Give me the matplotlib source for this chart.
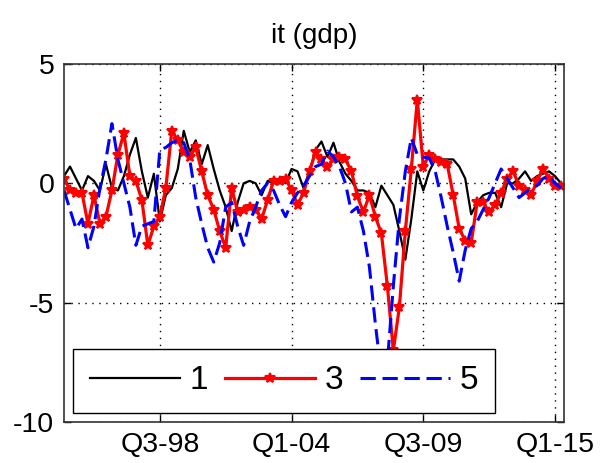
import numpy as np
import matplotlib
matplotlib.use('Agg')
from matplotlib import pyplot as plt

# quarterly data, Q3-94 .. Q2-15
h1 = [0.3, 0.7, 0.2, -0.3, 0.3, 0.1, -0.3, 0.8, -0.2, -0.3,
      0.3, 1.2, 1.9, 0.5, -0.6, 0.4, -1.6, -0.5, -0.2, 0.6,
      2.2, 1.3, 1.8, 0.8, 1.6, 0.6, -0.3, -1.0, -2.0, -0.8,
      0.0, 0.1, 0.0, -0.5, 0.1, 0.0, 0.2, 0.0, 0.6, 0.5,
      -0.2, 0.5, 1.4, 1.75, 1.1, 1.7, 0.9, 0.4, 0.1, -0.3,
      -0.3, -0.4, -1.0, -0.1, -0.5, -0.9, -2.0, -3.2, -1.5, 0.5,
      -0.3, 0.5, 1.0, 1.0, 1.0, 1.0, 0.7, 0.2, -1.3, -0.8,
      -0.5, -0.4, -0.4, -1.0, 0.0, 0.0, 0.2, 0.5, 0.1, 0.3,
      0.4, 0.5, 0.3, 0.0]
h3 = [0.2, -0.3, -0.4, -0.4, -1.7, -0.5, -1.7, -1.4, -0.3, 1.2,
      2.1, 0.3, 0.1, -0.7, -2.6, -1.8, -1.4, -0.2, 2.2, 1.8,
      1.3, 1.1, 1.5, 0.5, -0.5, -1.1, -2.0, -2.7, -0.2, -1.2,
      -1.1, -1.0, -1.1, -1.5, -0.7, 0.1, 0.1, 0.2, -0.3, -0.9,
      -0.4, 0.5, 1.3, 1.0, 0.7, 1.0, 1.1, 1.0, 0.5, -0.55,
      -1.2, -0.5, -1.4, -2.1, -4.3, -7.0, -5.2, -2.0, 0.6, 3.5,
      0.7, 1.2, 1.0, 0.9, 0.8, -0.5, -1.9, -2.4, -2.5, -0.8,
      -0.8, -1.2, -0.9, -0.4, 0.2, 0.5, -0.1, -0.3, -0.5, 0.1,
      0.6, 0.2, -0.1, -0.1]
h5 = [-0.3, -1.1, -1.9, -1.5, -2.7, -1.8, -0.2, 1.0, 2.5, 1.0,
      0.0, -1.0, -2.6, -1.8, -1.7, -1.6, 1.4, 1.5, 1.7, 1.8,
      1.7, 1.0, -0.6, -1.7, -2.7, -3.3, -2.5, -1.0, -0.8, -1.8,
      -2.6, -1.6, -1.0, -0.3, 0.0, -0.3, -0.9, -1.4, -0.8, -0.4,
      -0.1, 0.3, 0.7, 0.8, 1.35, 1.1, 0.7, 0.0, -1.2, -1.0,
      -2.0, -3.5, -5.9, -8.0, -7.5, -4.3, -1.5, 0.5, 1.9, 1.2,
      1.1, 1.05, 0.5, -0.6, -1.8, -2.9, -4.1, -2.8, -1.9, -1.6,
      -1.1, -0.6, 0.0, 0.6, 0.2, -0.2, -0.6, -0.4, -0.2, -0.1,
      0.2, 0.3, 0.0, -0.2]

tickPos = [16, 38, 60, 82]
tickLabels = ['Q3-98', 'Q1-04', 'Q3-09', 'Q1-15']
yTicks = [-10, -5, 0, 5]

plt.rcParams['font.family'] = ['Liberation Sans', 'DejaVu Sans']
plt.rcParams['axes.unicode_minus'] = False

fig = plt.figure(figsize=(6, 4.63), dpi=100)
ax = fig.add_axes([0.1067, 0.0886, 0.8333, 0.7733])

x = np.arange(len(h1))
ax.plot(x, h1, color='black', lw=1.6, label='1')
ax.plot(x, h3, color='red', lw=2.3, marker='*', ms=7, mew=1.5, label='3')
ax.plot(x, h5, color='blue', lw=2.2, ls=(0, (5, 2.2)), label='5')

ax.set_xlim(0, 83.5)
ax.set_ylim(-10, 5)
ax.set_xticks(tickPos)
ax.set_xticklabels(tickLabels)
ax.set_yticks(yTicks)
ax.set_yticklabels([str(v) for v in yTicks])
ax.grid(True, color='black', ls=(0, (1, 4)), lw=1.0)
ax.tick_params(direction='in', length=5, width=1, labelsize=20.5,
               top=True, right=True, pad=7)
for s in ax.spines.values():
    s.set_linewidth(1.2)
    s.set_color('#333333')
ax.set_title('it (gdp)', fontsize=20, pad=15)

leg = ax.legend(ncol=3, loc='lower left', bbox_to_anchor=(0.018, 0.025, 0.844, 0.168),
                mode='expand', fontsize=24, handlelength=2.7, handletextpad=0.3,
                columnspacing=0.6, borderaxespad=0, fancybox=False, framealpha=1,
                edgecolor='black', borderpad=0.5)
leg.get_frame().set_linewidth(1.0)

fig.savefig('out.png', dpi=100)
